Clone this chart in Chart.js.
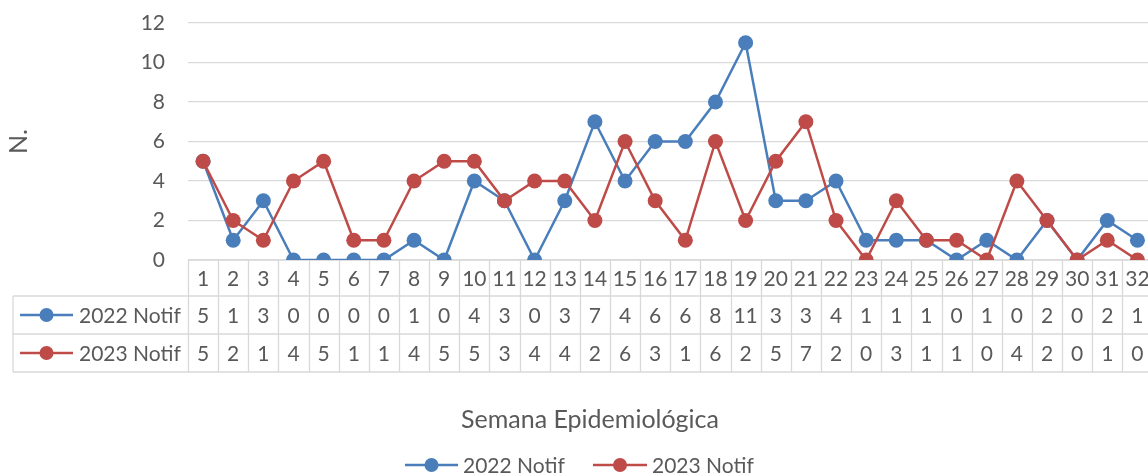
<!DOCTYPE html>
<html>
<head>
<meta charset="utf-8">
<script src="https://cdn.jsdelivr.net/npm/chart.js@4.4.1/dist/chart.umd.min.js"></script>
<style>
  html, body { margin: 0; padding: 0; background: #fff; overflow: hidden; }
  #grafico { display: block; }
</style>
</head>
<body>
<canvas id="grafico" width="1160" height="475" style="width:1160px;height:475px"></canvas>
<script>
// Semanas epidemiológicas y notificaciones por año
const semanas = ['1','2','3','4','5','6','7','8','9','10','11','12','13','14','15','16',
                 '17','18','19','20','21','22','23','24','25','26','27','28','29','30','31','32'];
const notif2022 = [5,1,3,0,0,0,0,1,0,4,3,0,3,7,4,6,6,8,11,3,3,4,1,1,1,0,1,0,2,0,2,1];
const notif2023 = [5,2,1,4,5,1,1,4,5,5,3,4,4,2,6,3,1,6,2,5,7,2,0,3,1,1,0,4,2,0,1,0];
const series = [
    { label: '2022 Notif', data: notif2022, color: '#4a7ebb' },
    { label: '2023 Notif', data: notif2023, color: '#be4b48' }
];

const TEXTO = '#595959';
const LINEA = '#d9d9d9';
const FUENTE = 'Lato, "Open Sans", sans-serif';
const TAM = 21;       // tabla y leyenda
const TAM_TITULO = 25; // títulos de ejes

Chart.defaults.font.family = FUENTE;
Chart.defaults.font.size = 20;
Chart.defaults.color = TEXTO;

// clave de leyenda estilo Excel: línea con marcador circular
function dibujarClave(ctx, x1, x2, y, color) {
    ctx.save();
    ctx.strokeStyle = color;
    ctx.lineWidth = 2.5;
    ctx.beginPath();
    ctx.moveTo(x1, y);
    ctx.lineTo(x2, y);
    ctx.stroke();
    ctx.fillStyle = color;
    ctx.beginPath();
    ctx.arc((x1 + x2) / 2, y, 7, 0, Math.PI * 2);
    ctx.fill();
    ctx.restore();
}

/**
 * Tabla de datos debajo del eje (como en Excel) + título del eje X + leyenda
 */
const tablaDatos = {
    id: 'tablaDatos',
    beforeDatasetsDraw(chart) {
        const { ctx, chartArea, scales: { x } } = chart;
        const ancho = x.width / semanas.length;
        const top = chartArea.bottom;
        const filas = [top, top + 36, top + 74, top + 112];
        const izq = 13;
        const der = chartArea.right;

        ctx.save();
        ctx.strokeStyle = LINEA;
        ctx.lineWidth = 1.3;
        ctx.beginPath();
        // horizontales
        ctx.moveTo(chartArea.left, filas[0]); ctx.lineTo(der, filas[0]);
        for (let r = 1; r < filas.length; r++) {
            ctx.moveTo(izq, filas[r]); ctx.lineTo(der, filas[r]);
        }
        // verticales
        ctx.moveTo(izq, filas[1]); ctx.lineTo(izq, filas[3]);
        for (let i = 0; i <= semanas.length; i++) {
            const px = Math.round(chartArea.left + i * ancho) + 0.5;
            ctx.moveTo(px, filas[0]); ctx.lineTo(px, filas[3]);
        }
        ctx.stroke();

        ctx.fillStyle = TEXTO;
        ctx.font = TAM + 'px ' + FUENTE;
        ctx.textAlign = 'center';
        ctx.textBaseline = 'middle';
        semanas.forEach((s, i) => {
            const cx = x.getPixelForValue(i);
            ctx.fillText(s, cx, (filas[0] + filas[1]) / 2 + 1);
            series.forEach((se, k) => {
                ctx.fillText(String(se.data[i]), cx, (filas[k + 1] + filas[k + 2]) / 2 + 1);
            });
        });

        // etiquetas de filas
        ctx.textAlign = 'left';
        series.forEach((se, k) => {
            const cy = (filas[k + 1] + filas[k + 2]) / 2;
            dibujarClave(ctx, 20, 73, cy, se.color);
            ctx.fillStyle = TEXTO;
            ctx.fillText(se.label, 79, cy + 1);
        });

        // título del eje X
        ctx.textAlign = 'center';
        ctx.font = TAM_TITULO + 'px ' + FUENTE;
        ctx.fillText('Semana Epidemiológica', 590, 420);

        // leyenda inferior
        ctx.font = TAM + 'px ' + FUENTE;
        ctx.textAlign = 'left';
        const leyenda = [[405, 458, 463], [593, 647, 652]];
        series.forEach((se, k) => {
            const [a, b, t] = leyenda[k];
            dibujarClave(ctx, a, b, 465, se.color);
            ctx.fillStyle = TEXTO;
            ctx.fillText(se.label, t, 466);
        });
        ctx.restore();
    }
};

new Chart(document.getElementById('grafico'), {
    type: 'line',
    data: {
        labels: semanas,
        datasets: series.map(se => ({
            label: se.label,
            data: se.data,
            borderColor: se.color,
            backgroundColor: se.color,
            pointBackgroundColor: se.color,
            pointBorderColor: se.color,
            borderWidth: 2.5,
            pointRadius: 7.5,
            pointBorderWidth: 0,
            tension: 0
        })).reverse()
    },
    options: {
        responsive: false,
        animation: false,
        layout: { padding: { top: 23, right: 6, left: 0, bottom: 0 } },
        plugins: { legend: { display: false }, tooltip: { enabled: false } },
        scales: {
            x: {
                offset: true,
                grid: { display: false, drawTicks: false },
                border: { display: false },
                ticks: { display: false },
                afterFit: s => { s.height = 215; s.paddingLeft = 0; s.paddingRight = 0; }
            },
            y: {
                min: 0,
                max: 12,
                ticks: { stepSize: 2, padding: 23, color: TEXTO, font: { size: 21 } },
                grid: { color: LINEA, drawTicks: false, lineWidth: 1.3 },
                border: { display: false },
                title: { display: true, text: 'N.', color: TEXTO, font: { size: TAM_TITULO }, padding: { top: 4 } },
                afterFit: s => { s.width = 188; s.paddingTop = 0; s.paddingBottom = 0; }
            }
        }
    },
    plugins: [tablaDatos]
});
</script>
</body>
</html>
